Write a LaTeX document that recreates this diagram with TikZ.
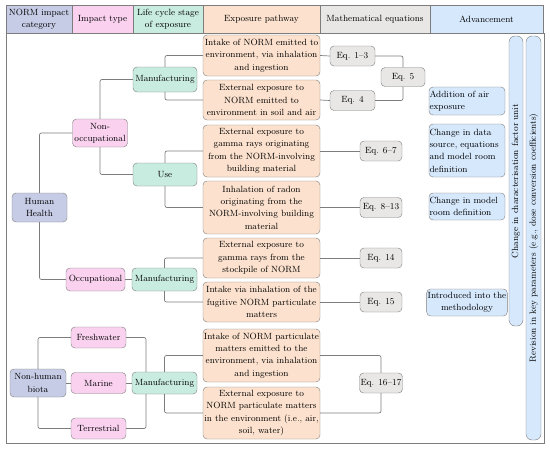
\documentclass[tikz,border=0pt]{standalone}
\usepackage{amsmath,amssymb}
\usepackage{tikz}
\usepackage{xcolor}
\definecolor{catcol}{RGB}{199,204,230}
\definecolor{typecol}{RGB}{250,210,240}
\definecolor{lifecol}{RGB}{201,236,224}
\definecolor{pathcol}{RGB}{252,226,206}
\definecolor{eqcol}{RGB}{233,231,229}
\definecolor{advcol}{RGB}{214,232,252}
\definecolor{edgecol}{RGB}{125,125,125}

\begin{document}
\begin{tikzpicture}[x=1pt,y=-1pt,font=\fontsize{9}{12.4}\selectfont]
      \useasboundingbox(0,0) rectangle (550,450);
      \tikzset{B/.style = {draw=edgecol, rounded corners=4pt, inner sep=1pt, align=center, text=black}}
      \tikzset{H/.style = {draw=edgecol, inner sep=1pt, align=center, minimum height=28pt}}
      \tikzset{E/.style = {draw=edgecol, line width=0.7pt, rounded corners=2pt}}
      \tikzset{P/.style = {B, fill=pathcol, minimum width=117pt}}
      \tikzset{Q/.style = {B, fill=eqcol, minimum height=20pt}}
      \tikzset{A/.style = {B, fill=advcol, inner sep=0.5pt, text width=75pt, minimum height=27pt}}
      % header
      \node[H,fill=catcol,minimum width=66pt](h1) at (39,19) {NORM impact\\category};
      \node[H,fill=typecol,minimum width=61pt](h2) at (102.5,19) {Impact type};
      \node[H,fill=lifecol,minimum width=70pt](h3) at (168,19) {Life cycle stage\\of exposure};
      \node[H,fill=pathcol,minimum width=117pt](h4) at (261.5,19) {Exposure pathway};
      \node[H,fill=eqcol,minimum width=110pt](h5) at (375,19) {Mathematical equations};
      \node[H,fill=advcol,minimum width=113pt](h6) at (486.5,19) {Advancement};
      \draw[edgecol,line width=0.7pt] (6,33) rectangle (544,443);
      % categories and types
      \node[B,fill=catcol,minimum width=55pt,minimum height=29pt](hh) at (39.5,207.5) {Human\\Health};
      \node[B,fill=catcol,minimum width=56pt,minimum height=28pt](nhb) at (38,383) {Non-human\\biota};
      \node[B,fill=typecol,minimum width=55pt,minimum height=28pt](nonocc) at (100,133) {Non-\\occupational};
      \node[B,fill=typecol,minimum width=59pt,minimum height=23pt](occ) at (95.5,279.5) {Occupational};
      \node[B,fill=typecol,minimum width=55pt,minimum height=21pt](fw) at (98.5,337.5) {Freshwater};
      \node[B,fill=typecol,minimum width=55pt,minimum height=21pt](mar) at (98.5,383) {Marine};
      \node[B,fill=typecol,minimum width=55pt,minimum height=21pt](ter) at (98.5,428.5) {Terrestrial};
      % life cycle stages
      \node[B,fill=lifecol,minimum width=64pt,minimum height=25pt](mf1) at (165,79.5) {Manufacturing};
      \node[B,fill=lifecol,minimum width=64pt,minimum height=23pt](use) at (165,174.5) {Use};
      \node[B,fill=lifecol,minimum width=65pt,minimum height=23pt](mf2) at (164.5,279.5) {Manufacturing};
      \node[B,fill=lifecol,minimum width=65pt,minimum height=22pt](mf3) at (164.5,383) {Manufacturing};
      % exposure pathways
      \node[P,minimum height=41pt](p1) at (261.5,55.5) {Intake of NORM emitted to\\environment, via inhalation\\and ingestion};
      \node[P,minimum height=40pt](p2) at (261.5,100) {External exposure to\\NORM emitted to\\environment in soil and air};
      \node[P,minimum height=52pt](p3) at (261.5,151) {External exposure to\\gamma rays originating\\from the NORM-involving\\building material};
      \node[P,minimum height=53pt](p4) at (261.5,207.5) {Inhalation of radon\\originating from the\\NORM-involving building\\material};
      \node[P,minimum height=40pt](p5) at (261.5,258) {External exposure to\\gamma rays from the\\stockpile of NORM};
      \node[P,minimum height=40pt](p6) at (261.5,302) {Intake via inhalation of the\\fugitive NORM particulate\\matters};
      \node[P,minimum height=53pt](p7) at (261.5,355.5) {Intake of NORM particulate\\matters emitted to the\\environment, via inhalation\\and ingestion};
      \node[P,minimum height=52pt](p8) at (261.5,413) {External exposure to\\NORM particulate matters\\in the environment (i.e., air,\\soil, water)};
      % equations
      \node[Q,minimum width=45pt](eq1) at (352.5,56) {Eq. 1--3};
      \node[Q,minimum width=45pt](eq4) at (352.5,100.5) {Eq. 4};
      \node[Q,minimum width=44pt,minimum height=19pt](eq5) at (403,77) {Eq. 5};
      \node[Q,minimum width=42pt](eq6) at (381,151) {Eq. 6--7};
      \node[Q,minimum width=42pt](eq8) at (381,207.5) {Eq. 8--13};
      \node[Q,minimum width=42pt](eq14) at (381,258) {Eq. 14};
      \node[Q,minimum width=42pt](eq15) at (381,302) {Eq. 15};
      \node[Q,minimum width=42pt](eq16) at (381,383) {Eq. 16--17};
      % advancement
      \node[A,align=left,minimum height=28pt](a1) at (467,101) {Addition of air\\exposure};
      \node[A,align=left,minimum height=53pt](a2) at (467,150.5) {Change in data\\source, equations\\and model room\\definition};
      \node[A,align=left](a3) at (467,206.5) {Change in model\\room definition};
      \node[B,fill=advcol,minimum width=76pt,minimum height=27pt](a4) at (467,302.5) {Introduced into the\\methodology};
      \node[B,fill=advcol,rounded corners=6pt,rotate=90,minimum width=290pt,minimum height=14pt](bar1) at (516,181) {Change in characterisation factor unit};
      \node[B,fill=advcol,rounded corners=6pt,rotate=90,minimum width=404pt,minimum height=15pt](bar2) at (533.5,238) {Revision in key parameters (e.g., dose conversion coefficients)};
      % connectors
      \draw[E] (hh.north) |- (nonocc.west);
      \draw[E] (hh.south) |- (occ.west);
      \draw[E] (nonocc.north) |- (mf1.west);
      \draw[E] (nonocc.south) |- (use.west);
      \draw[E] (occ.east) to (mf2.west);
      \draw[E] (nhb.north) |- (fw.west);
      \draw[E] (nhb.east) to (mar.west);
      \draw[E] (nhb.south) |- (ter.west);
      \draw[E] (fw.east) -| ([xshift=-18.5pt]mf3.north);
      \draw[E] (mar.east) to (mf3.west);
      \draw[E] (ter.east) -| ([xshift=-18.5pt]mf3.south);
      \draw[E] (mf1.north) |- (p1.west);
      \draw[E] (mf1.south) |- (p2.west);
      \draw[E] (use.north) |- (p3.west);
      \draw[E] (use.south) |- (p4.west);
      \draw[E] (mf2.north) |- (p5.west);
      \draw[E] (mf2.south) |- (p6.west);
      \draw[E] (mf3.north) |- (p7.west);
      \draw[E] (mf3.south) |- (p8.west);
      \draw[E] (p1.east) to (eq1.west);
      \draw[E] (p2.east) to (eq4.west);
      \draw[E] (eq1.east) -| (eq5.north);
      \draw[E] (eq4.east) -| (eq5.south);
      \draw[E] (p3.east) to (eq6.west);
      \draw[E] (p4.east) to (eq8.west);
      \draw[E] (p5.east) to (eq14.west);
      \draw[E] (p6.east) to (eq15.west);
      \draw[E] (p7.east) -| (eq16.north);
      \draw[E] (p8.east) -| (eq16.south);
    \end{tikzpicture}
\end{document}
